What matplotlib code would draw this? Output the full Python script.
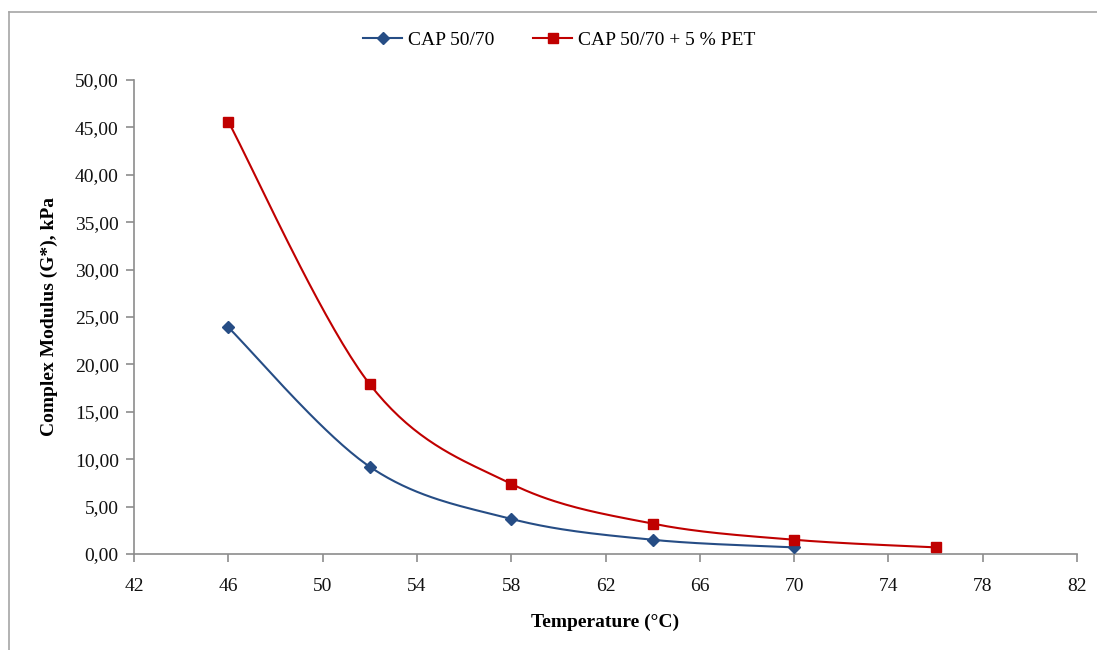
import matplotlib
matplotlib.use("Agg")
import matplotlib.pyplot as plt
import matplotlib.ticker as ticker
from matplotlib.lines import Line2D
import numpy as np

plt.rcParams['font.family'] = ['Liberation Serif', 'DejaVu Serif']

temp_base = [46, 52, 58, 64, 70]
g_base = [23.9, 9.2, 3.7, 1.5, 0.7]
temp_pet = [46, 52, 58, 64, 70, 76]
g_pet = [45.6, 17.9, 7.4, 3.2, 1.5, 0.7]

label_base = "CAP 50/70"
label_pet = "CAP 50/70 + 5 % PET"

blue = "#264D85"
red = "#C00000"
axis_gray = "#8C8C8C"


def smooth(xs, ys, xr, yr, n=40):
    # Excel-like smoothed line: Catmull-Rom bezier segments, computed in
    # axis-normalised space so the curve shape does not depend on units
    x = (np.asarray(xs, float) - xr[0]) / (xr[1] - xr[0])
    y = (np.asarray(ys, float) - yr[0]) / (yr[1] - yr[0]) * 0.55
    p = np.column_stack([x, y])
    pts = [p[0]]
    for i in range(len(p) - 1):
        p0 = p[i - 1] if i > 0 else p[i]
        p1, p2 = p[i], p[i + 1]
        p3 = p[i + 2] if i + 2 < len(p) else p[i + 1]
        c1 = p1 + (p2 - p0) / 6
        c2 = p2 - (p3 - p1) / 6
        t = np.linspace(0, 1, n)[1:, None]
        seg = ((1 - t) ** 3) * p1 + 3 * ((1 - t) ** 2) * t * c1 \
            + 3 * (1 - t) * t ** 2 * c2 + t ** 3 * p2
        pts.extend(seg)
    pts = np.array(pts)
    return (pts[:, 0] * (xr[1] - xr[0]) + xr[0],
            pts[:, 1] / 0.55 * (yr[1] - yr[0]) + yr[0])


xlim = (42, 82)
ylim = (0, 50)

fig = plt.figure(figsize=(10.97, 6.5), dpi=100)
ax = fig.add_axes([0.1222, 0.1477, 0.8596, 0.7293])

sx, sy = smooth(temp_base, g_base, xlim, ylim)
ax.plot(sx, sy, color=blue, lw=1.5, zorder=2)
ax.plot(temp_base, g_base, ls='none', marker='D', ms=6.5, color=blue, zorder=3)

sx, sy = smooth(temp_pet, g_pet, xlim, ylim)
ax.plot(sx, sy, color=red, lw=1.5, zorder=2)
ax.plot(temp_pet, g_pet, ls='none', marker='s', ms=7.5, color=red, zorder=3)

ax.set_xlim(*xlim)
ax.set_ylim(*ylim)
ax.xaxis.set_major_locator(ticker.FixedLocator(np.arange(42, 83, 4)))
ax.yaxis.set_major_locator(ticker.MultipleLocator(5))
ax.yaxis.set_major_formatter(ticker.FuncFormatter(lambda v, _: f"{v:.2f}".replace(".", ",")))

for s in ['top', 'right']:
    ax.spines[s].set_visible(False)
for s in ['left', 'bottom']:
    ax.spines[s].set_color(axis_gray)
    ax.spines[s].set_linewidth(1.2)
ax.tick_params(axis='both', which='major', direction='out', length=6, width=1.2,
               color=axis_gray, labelsize=14, labelcolor='#111111')
ax.tick_params(axis='x', pad=11)
ax.tick_params(axis='y', pad=5)

ax.set_xlabel("Temperature (°C)", fontsize=14, fontweight='bold', labelpad=14)
ax.set_ylabel("Complex Modulus (G*), kPa", fontsize=14, fontweight='bold', labelpad=12)

handles = [
    Line2D([], [], color=blue, lw=1.5, marker='D', ms=6.5),
    Line2D([], [], color=red, lw=1.5, marker='s', ms=7.5),
]
fig.legend(handles, [label_base, label_pet], loc='center', bbox_to_anchor=(0.51, 0.938),
           ncol=2, frameon=False, fontsize=14, handlelength=2.0, handletextpad=0.3,
           columnspacing=2.0)

# outer chart frame (left and top edges visible)
fig.add_artist(Line2D([0.0082, 0.0082], [0, 0.982], transform=fig.transFigure,
                      color='#A6A6A6', lw=1.2))
fig.add_artist(Line2D([0.0082, 1.0], [0.982, 0.982], transform=fig.transFigure,
                      color='#A6A6A6', lw=1.2))

fig.savefig("out.png", dpi=100)
